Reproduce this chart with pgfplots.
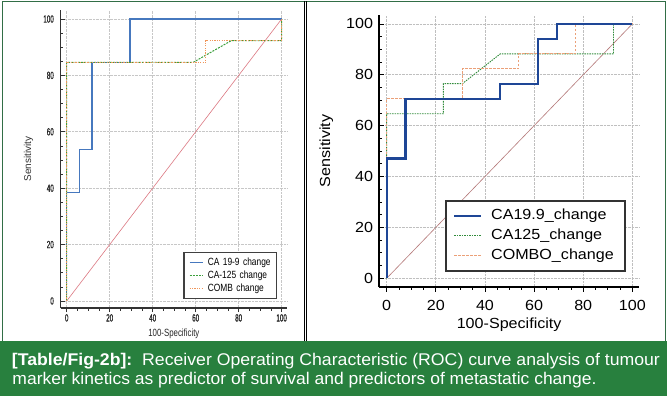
\documentclass[border=0pt]{standalone}
\usepackage{pgfplots}
\pgfplotsset{compat=1.18}
\usepackage{graphicx}
\usepackage{fontspec}
\setmainfont{Liberation Sans}
\newfontfamily\fA[FakeStretch=0.6,FakeBold=0.6]{Liberation Sans}
\newfontfamily\fB[FakeStretch=0.75]{Liberation Sans}
\newfontfamily\fL[FakeStretch=0.8]{Liberation Sans}
\newfontfamily\fR[FakeStretch=1.1]{Liberation Sans}
\definecolor{capgreen}{RGB}{40,128,62}
\definecolor{framegreen}{RGB}{50,110,70}
\definecolor{lblue}{RGB}{70,120,190}
\definecolor{lgreen}{RGB}{60,160,60}
\definecolor{lorange}{RGB}{240,150,90}
\definecolor{ldiag}{RGB}{220,120,130}
\definecolor{rblue}{RGB}{30,70,150}
\definecolor{rgreen}{RGB}{50,140,60}
\definecolor{rorange}{RGB}{235,160,120}
\definecolor{rdiag}{RGB}{180,120,120}
\begin{document}
\begin{tikzpicture}[x=1bp,y=1bp]
\path[use as bounding box] (0,0) rectangle (671,398);
\fill[white] (0,0) rectangle (671,398);
\fill[capgreen] (0,2) rectangle (667,57);
\draw[framegreen, line width=1.2bp] (2.7,57) -- (2.7,396.5) -- (665.7,396.5) -- (665.7,57);
\draw[black, line width=0.8bp] (304,57) -- (304,396.5);
\draw[black, line width=0.8bp] (306.7,57) -- (306.7,396.5);

% ---------------- left panel ----------------
\begin{axis}[
  at={(60.7bp,90bp)}, anchor=south west, scale only axis,
  width=226.3bp, height=298bp,
  xmin=-2.8, xmax=102.5, ymin=-2.5, ymax=103.2,
  axis lines=left, axis line style={-, line width=1.2bp, color=black!80},
  xtick={0,20,...,100}, ytick={0,20,...,100}, minor tick num=3,
  tick style={color=black!80, line width=0.6bp},
  major tick length=4bp, minor tick length=2.5bp,
  xtick align=outside, ytick align=inside,
  grid=major, grid style={densely dotted, black!22, line width=0.6bp},
  /pgf/number format/assume math mode=true,
  tick label style={font=\fA\fontsize{10.5}{12}\selectfont, text=black!85, inner sep=0pt},
  yticklabel style={anchor=east, xshift=-6.7bp},
  xticklabel style={anchor=north, yshift=-2bp},
  xlabel={100-Specificity},
  x label style={at={(axis description cs:0.5,-0.0705)}, anchor=north, inner sep=0pt, font=\fB\fontsize{10.5}{12}\selectfont, text=black!85},
  ylabel={Sensitivity},
  y label style={at={(axis description cs:-0.1211,0.5)}, anchor=south, inner sep=0pt, font=\fontsize{10}{12}\selectfont, text=black!80},
  legend style={at={(0.956,0.030)}, anchor=south east, draw=black!75, line width=1.5bp, fill=white,
    font=\fL\fontsize{10.5}{12}\selectfont, inner xsep=5bp, inner ysep=4.75bp, row sep=2.5bp,
    nodes={inner sep=0.5bp, text height=7.5bp, text depth=2bp, text width=63bp, align=left},
    /tikz/every odd column/.append style={column sep=4bp}},
  legend cell align=left,
  legend image code/.code={\draw[#1] (0bp,0bp) -- (13bp,0bp);},
]
\addplot[draw=ldiag, line width=0.6bp, forget plot] coordinates {(0,0) (100,100)};
\addplot[draw=lblue, line width=1.3bp] coordinates {(0,0) (0,38.5) (5.9,38.5) (5.9,53.8) (11.8,53.8) (11.8,84.6) (29.4,84.6) (29.4,100) (100,100)};
\addlegendentry{CA 19-9 change}
\addplot[draw=lgreen, line width=1bp, dash pattern=on 2bp off 1.2bp] coordinates {(0,0) (0,84.6) (58.8,84.6) (76.5,92.3) (100,92.3) (100,100)};
\addlegendentry{CA-125 change}
\addplot[draw=lorange, line width=1bp, dash pattern=on 1.2bp off 1.2bp] coordinates {(0,0) (0,84.6) (64.7,84.6) (64.7,92.3) (100,92.3) (100,100)};
\addlegendentry{COMB change}
\end{axis}

% ---------------- right panel ----------------
\begin{axis}[
  at={(379.3bp,111.3bp)}, anchor=south west, scale only axis,
  width=259.7bp, height=271.7bp,
  xmin=-3, xmax=102.7, ymin=-3.3, ymax=103.5,
  axis lines=left, axis line style={-, line width=1.8bp, color=black},
  xtick={0,20,...,100}, ytick={0,20,...,100}, minor tick num=3,
  tick style={color=black, line width=0.8bp},
  major tick length=5bp, minor tick length=3bp,
  xtick align=outside, ytick align=inside,
  grid=major, grid style={densely dotted, black!25, line width=0.7bp},
  /pgf/number format/assume math mode=true,
  tick label style={font=\fR\fontsize{14.7}{16}\selectfont, text=black, inner sep=0pt},
  yticklabel style={anchor=east, xshift=-6bp},
  xticklabel style={anchor=north, yshift=-8.8bp},
  xlabel={100-Specificity},
  x label style={at={(axis description cs:0.5,-0.1152)}, anchor=north, inner sep=0pt, font=\fR\fontsize{14.7}{16}\selectfont},
  ylabel={Sensitivity},
  y label style={at={(axis description cs:-0.1771,0.5)}, anchor=south, inner sep=0pt, font=\fR\fontsize{14.7}{16}\selectfont},
  legend style={at={(0.950,0.055)}, anchor=south east, draw=black!80, line width=1.8bp, fill=white,
    font=\fR\fontsize{14.7}{16}\selectfont, inner xsep=7bp, inner ysep=6.5bp, row sep=3bp,
    nodes={inner sep=1bp, text height=11.5bp, text depth=3.5bp, text width=126bp, align=left},
    /tikz/every odd column/.append style={column sep=7.7bp}},
  legend cell align=left,
  legend image code/.code={\draw[#1] (0bp,0bp) -- (27bp,0bp);},
]
\addplot[draw=rdiag, line width=0.6bp, forget plot] coordinates {(0,0) (100,100)};
\addplot[draw=rblue, line width=2.2bp] coordinates {(0,0) (0,47.1) (7.7,47.1) (7.7,70.6) (46.2,70.6) (46.2,76.5) (61.5,76.5) (61.5,94.1) (69.2,94.1) (69.2,100) (100,100)};
\addlegendentry{CA19.9\_change}
\addplot[draw=rgreen, line width=0.9bp, dash pattern=on 1.5bp off 1bp] coordinates {(0,0) (0,64.7) (23.1,64.7) (23.1,76.5) (30.8,76.5) (46.2,88.2) (92.3,88.2) (92.3,100) (100,100)};
\addlegendentry{CA125\_change}
\addplot[draw=rorange, line width=0.9bp, dash pattern=on 2.5bp off 1.5bp] coordinates {(0,0) (0,70.6) (30.8,70.6) (30.8,82.4) (53.8,82.4) (53.8,88.2) (76.9,88.2) (76.9,100) (100,100)};
\addlegendentry{COMBO\_change}
\addplot[draw=rblue, line width=2.2bp, forget plot] coordinates {(0,0) (0,47.1) (7.7,47.1) (7.7,70.6) (46.2,70.6) (46.2,76.5) (61.5,76.5) (61.5,94.1) (69.2,94.1) (69.2,100) (100,100)};
\end{axis}

% ---------------- caption ----------------
\node[anchor=base west, inner sep=0pt, text=white] at (11.7,33)
  {\resizebox{648bp}{\height}{\fontsize{17}{20}\selectfont\textbf{[Table/Fig-2b]:}\ \ Receiver Operating Characteristic (ROC) curve analysis of tumour}};
\node[anchor=base west, inner sep=0pt, text=white] at (12.3,13.7)
  {\resizebox{584bp}{\height}{\fontsize{17}{20}\selectfont marker kinetics as predictor of survival and predictors of metastatic change.}};
\end{tikzpicture}
\end{document}
